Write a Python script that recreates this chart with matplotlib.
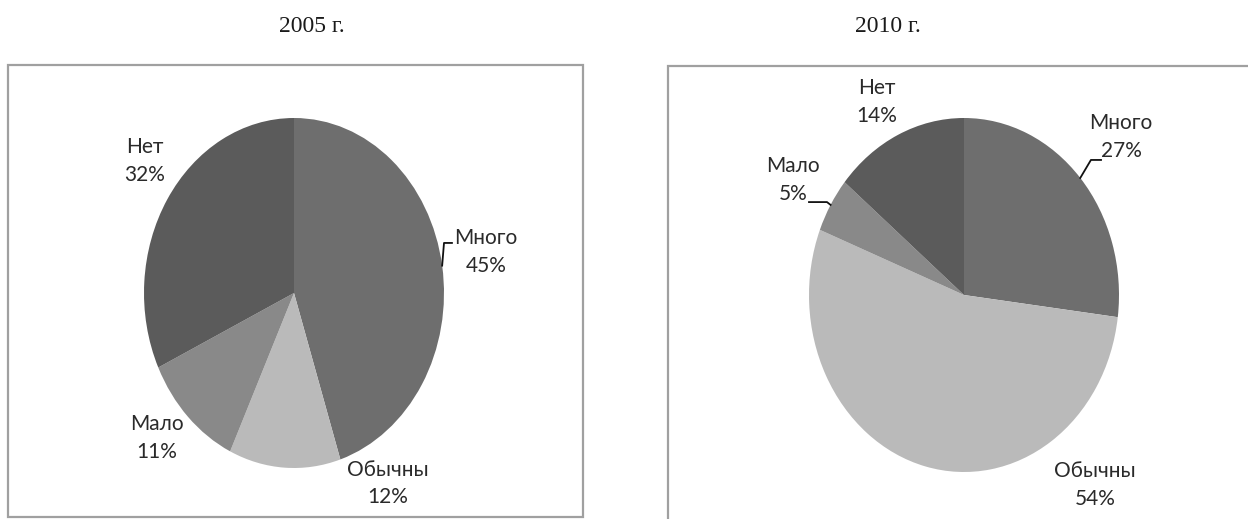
import numpy as np
import matplotlib.pyplot as plt
from matplotlib.patches import Rectangle

categories = ['Много', 'Обычны', 'Мало', 'Нет']
share_2005 = [45, 12, 11, 32]
share_2010 = [27, 54, 5, 14]
years = ['2005 г.', '2010 г.']

colors = ['#6e6e6e', '#bababa', '#898989', '#5b5b5b']
label_font = ['Lato', 'DejaVu Sans']

W, H = 1248, 519
fig = plt.figure(figsize=(W / 100, H / 100), dpi=100)


def px_axes(cx, cy, rx, ry):
    # axes whose (-1, 1) box is the pie ellipse, given in pixels from top-left
    ax = fig.add_axes([(cx - rx) / W, (H - cy - ry) / H, 2 * rx / W, 2 * ry / H])
    return ax


# chart frames
fig.patches.append(Rectangle((8 / W, (H - 517) / H), 575 / W, 452 / H,
                             transform=fig.transFigure, fill=False,
                             edgecolor='#a0a0a0', lw=1.6))
fig.patches.append(Rectangle((668 / W, -10 / H), 600 / W, (H - 66 + 10) / H,
                             transform=fig.transFigure, fill=False,
                             edgecolor='#a0a0a0', lw=1.6))

fig.text(312 / W, 1 - 27 / H, years[0], ha='center', va='center',
         fontsize=17, family='Liberation Serif', color='#1a1a1a')
fig.text(888 / W, 1 - 27 / H, years[1], ha='center', va='center',
         fontsize=17, family='Liberation Serif', color='#1a1a1a')

panels = [
    dict(values=share_2005, geom=(294, 293, 150, 175),
         pos={'Много': (1.28, 0.234), 'Обычны': (0.627, -1.09),
              'Мало': (-0.913, -0.829), 'Нет': (-0.993, 0.754)},
         leaders={'Много': [(1.0, 0.286), (1.053, 0.286)]}),
    dict(values=share_2010, geom=(964, 295, 155, 177),
         pos={'Много': (1.013, 0.893), 'Обычны': (0.845, -1.073),
              'Мало': (-1.103, 0.65), 'Нет': (-0.561, 1.09)},
         leaders={'Много': [(0.819, 0.763), (0.884, 0.763)],
                  'Мало': [(-0.884, 0.525), (-1.0, 0.525)]}),
]

for p in panels:
    ax = px_axes(*p['geom'])
    wedges, _ = ax.pie(p['values'], colors=colors, startangle=90,
                       counterclock=False, radius=1,
                       wedgeprops=dict(linewidth=0))
    ax.set_aspect('auto')
    ax.set_xlim(-1, 1)
    ax.set_ylim(-1, 1)
    ax.axis('off')
    for name, val, w in zip(categories, p['values'], wedges):
        x, y = p['pos'][name]
        ax.text(x, y, f'{name}\n{val}%', ha='center', va='center',
                fontsize=15, family=label_font, color='#2a2a2a',
                linespacing=1.45)
        if name in p['leaders']:
            mid = np.deg2rad((w.theta1 + w.theta2) / 2)
            pts = [(np.cos(mid), np.sin(mid))] + p['leaders'][name]
            xs, ys = zip(*pts)
            ax.plot(xs, ys, color='#111111', lw=1.3, clip_on=False)

fig.savefig('out.png', dpi=100)
